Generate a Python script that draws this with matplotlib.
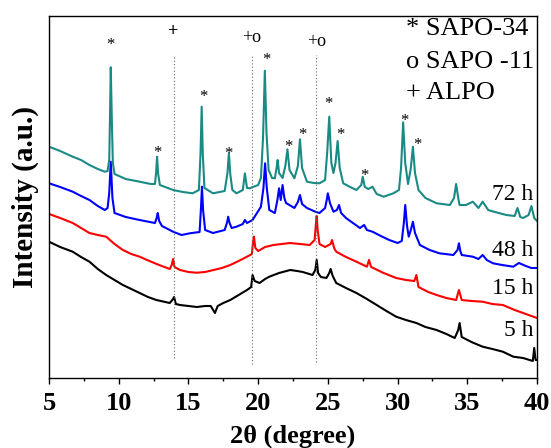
import matplotlib
matplotlib.use("Agg")
import matplotlib.pyplot as plt
from matplotlib.ticker import MultipleLocator

plt.rcParams['font.family'] = ['Liberation Serif', 'DejaVu Serif']

# ---- data (y in arbitrary units) ----
x_5h = [5.0, 5.8, 6.7, 7.3, 7.9, 8.5, 9.1, 9.7, 10.3, 10.9, 11.5, 12.1, 12.7, 13.66, 13.9, 13.97,
        14.1, 14.4, 15.0, 15.6, 16.2, 16.6, 16.9, 17.1, 17.5, 18.0, 18.6, 19.2, 19.5, 19.6, 19.75,
        20.1, 20.5, 20.8, 21.5, 22.3, 22.8, 23.2, 23.9, 24.1, 24.2, 24.3, 24.5, 24.9, 25.1, 25.2,
        25.35, 25.6, 26.3, 27.05, 27.8, 28.5, 29.2, 29.9, 30.6, 31.35, 32.0, 32.8, 33.5, 34.1,
        34.35, 34.45, 34.6, 35.3, 36.1, 36.8, 37.55, 38.3, 39.0, 39.7, 39.8, 39.9, 40.0]
y_5h = [136.3, 131, 126.3, 121, 116.3, 109, 103, 98, 93, 89, 85, 81, 78, 75, 79, 81,
        74, 73, 72, 71, 72, 72, 65, 72, 75, 78, 83, 88, 91, 103, 97,
        95, 99, 101.3, 105, 108, 107, 106, 103, 108, 118, 105, 101, 100, 105, 109,
        102, 95, 90, 85, 79, 73, 67, 61.3, 58, 55, 51, 48, 44, 40,
        48, 55, 41, 36, 31.3, 29, 26.3, 21.3, 20, 17, 30, 18, 18]

x_15h = [5.0, 5.8, 6.7, 7.3, 7.9, 8.5, 9.1, 9.7, 10.3, 10.9, 11.5, 12.2, 12.9, 13.66, 13.8, 13.9,
         14.0, 14.4, 15.0, 15.6, 16.2, 16.8, 17.4, 18.0, 18.6, 19.2, 19.55, 19.65, 19.7, 19.8,
         20.0, 20.5, 21.1, 21.7, 22.3, 23.0, 23.7, 24.05, 24.15, 24.2, 24.27, 24.4, 24.8, 25.2,
         25.3, 25.45, 25.6, 26.3, 27.05, 27.8, 27.95, 28.1, 29.0, 29.9, 30.6, 31.2, 31.35, 31.5,
         32.2, 32.8, 33.5, 34.2, 34.4, 34.6, 35.3, 36.1, 36.8, 37.55, 38.4, 39.2, 40.0]
y_15h = [164, 160, 155, 150, 145, 143, 141.3, 134, 128, 124, 121.3, 117, 113, 109, 113, 119,
         111, 108, 106, 105.3, 106, 108, 110, 113, 117, 121.3, 124, 138, 141.3, 130,
         127, 131, 133, 134, 135, 134, 133, 138, 155, 162, 148, 134, 131, 134,
         138, 130, 126.3, 121, 116.3, 111.3, 118, 111, 105, 100, 98, 97, 103, 91,
         86, 83, 80, 78, 88, 78, 77, 76.3, 74, 73, 68, 64, 60]

x_48h = [5.0, 5.8, 6.7, 7.3, 7.9, 8.5, 9.0, 9.2, 9.32, 9.43, 9.55, 9.7, 10.5, 11.5, 12.6, 12.72,
         12.8, 12.9, 13.1, 13.9, 14.5, 15.1, 15.8, 15.9, 15.97, 16.05, 16.2, 16.76, 17.6, 17.78,
         17.85, 17.95, 18.1, 18.45, 18.9, 19.05, 19.2, 19.6, 20.2, 20.38, 20.5, 20.62, 20.8,
         21.2, 21.38, 21.5, 21.62, 21.75, 21.88, 22.0, 22.6, 22.85, 23.0, 23.15, 23.5, 24.1,
         24.4, 24.8, 24.92, 25.0, 25.15, 25.4, 25.65, 25.8, 25.95, 26.3, 26.8, 27.3, 27.6, 27.8,
         28.2, 28.8, 29.4, 30.0, 30.3, 30.45, 30.55, 30.68, 30.8, 30.95, 31.1, 31.25, 31.6,
         32.3, 33.0, 34.0, 34.3, 34.4, 34.5, 34.6, 35.4, 35.8, 36.1, 36.4, 36.85, 37.5, 38.3,
         38.7, 39.2, 39.6, 40.0]
y_48h = [194.7, 191, 186.3, 182, 178, 172, 168, 170, 185, 216.3, 180, 165, 161, 158, 155, 160,
         165, 157, 152, 146.3, 143, 144.7, 146, 170, 191.3, 168, 148, 145, 148, 156,
         161.3, 155, 150, 151.3, 154, 158, 155, 158, 171.3, 190, 214.7, 190, 168,
         165, 178, 189.7, 178, 193, 180, 175, 170, 176, 183, 174, 170, 166.3,
         165, 170, 178, 184.7, 175, 166.3, 168, 173, 165, 160, 155, 150, 153, 148,
         146.3, 142, 138, 135, 137, 155, 173, 152, 141.3, 148, 156.3, 145, 133,
         128, 124.7, 123, 128, 134.7, 127, 123, 121.3, 119, 123, 118, 114.7, 113, 111.3,
         115, 112, 110, 110]

x_72h = [5.0, 5.0, 5.8, 6.7, 7.3, 7.9, 8.5, 9.0, 9.2, 9.32, 9.38, 9.43, 9.5, 9.58, 9.7, 10.5,
         11.5, 12.3, 12.6, 12.68, 12.75, 12.83, 12.95, 13.9, 14.6, 15.3, 15.75, 15.87, 15.95,
         16.03, 16.15, 16.76, 17.6, 17.8, 17.9, 18.0, 18.15, 18.45, 18.9, 19.05, 19.2, 19.4,
         20.0, 20.2, 20.35, 20.48, 20.6, 20.75, 21.0, 21.2, 21.32, 21.4, 21.5, 21.75, 21.95,
         22.1, 22.25, 22.6, 22.85, 23.0, 23.15, 23.5, 24.0, 24.4, 24.8, 24.95, 25.1, 25.25,
         25.4, 25.55, 25.7, 25.85, 26.1, 26.6, 27.05, 27.4, 27.5, 27.65, 27.9, 28.2, 28.5,
         29.0, 29.7, 30.1, 30.25, 30.4, 30.55, 30.75, 30.95, 31.1, 31.25, 31.5, 32.0, 32.8,
         33.75, 34.05, 34.2, 34.35, 34.45, 34.9, 35.4, 35.8, 36.1, 36.5, 36.9, 37.8, 38.4,
         38.6, 38.8, 39.0, 39.4, 39.6, 39.8, 40.0]
y_72h = [362, 231.3, 227, 221.3, 218, 213, 209, 206.3, 207, 218, 265, 310.7, 262, 215, 204, 199,
         196.3, 194, 194, 205, 221.3, 204, 193, 188, 186, 184.7, 188, 225, 271.3,
         224, 190, 184.7, 187, 205, 224.7, 204, 188, 184.7, 188, 204.7, 190, 189.7,
         193, 200, 240, 307.3, 245, 208, 200, 199.7, 210, 218, 205, 200, 212,
         228.7, 208, 199.7, 212, 238.7, 210, 196.3, 195, 194.7, 198, 225, 261.3, 215,
         205, 215, 237, 210, 194.7, 191, 188, 193, 201.3, 191, 189, 191.3, 184,
         181.3, 184.7, 188, 210, 255.7, 215, 194, 210, 231.3, 205, 188, 180, 174.7,
         173, 180, 194, 180, 173, 173, 176.3, 170, 176.3, 168, 166.3, 163, 162,
         170, 161, 160, 163, 172, 160, 157]

series_labels = ['5 h', '15 h', '48 h', '72 h']
series_colors = ['#000000', '#ff0000', '#0000ff', '#1a8a84']
label_y = [48, 89, 128, 183]

# phase markers
star_x = [9.38, 12.8, 16.04, 17.9, 20.57, 22.2, 23.17, 25.07, 25.93, 27.65, 30.5, 31.45]
star_y = [333, 225, 281.5, 224, 318, 231, 243, 274, 243, 202, 257, 233]
plus_x = [13.9]
plus_y = [346]
plus_o_x = [19.5, 24.2]
plus_o_y = [340, 336]
ref_lines_x = [13.97, 19.56, 24.18]
ref_line_top = 323
ref_line_bottom = [20, 14, 16]

legend_lines = ['* SAPO-34', 'o SAPO -11', '+ ALPO']
legend_y = [349, 316, 285]
xticks = [5, 10, 15, 20, 25, 30, 35, 40]

# ---- figure ----
fig = plt.figure(figsize=(5.51, 4.48), dpi=100)
ax = fig.add_axes([49/551, 1 - 378/448, (537 - 49)/551, (378 - 16)/448])

xs = [x_5h, x_15h, x_48h, x_72h]
ys = [y_5h, y_15h, y_48h, y_72h]
for xv, yv, c in zip(xs, ys, series_colors):
    ax.plot(xv, yv, color=c, lw=1.5)

for xl, yb in zip(ref_lines_x, ref_line_bottom):
    ax.plot([xl, xl], [yb, ref_line_top], color='#666666', lw=0.8, ls=(0, (1, 2)))

for lab, ly in zip(series_labels, label_y):
    ax.text(39.75, ly, lab, ha='right', va='center', fontsize=17)

for sx, sy in zip(star_x, star_y):
    ax.text(sx, sy, '*', ha='center', va='center', fontsize=12)
for px_, py_ in zip(plus_x, plus_y):
    ax.text(px_, py_, '+', ha='center', va='center', fontsize=13, fontweight='bold')
for px_, py_ in zip(plus_o_x, plus_o_y):
    ax.text(px_, py_, '+o', ha='center', va='center', fontsize=13)

for t, ly in zip(legend_lines, legend_y):
    ax.text(30.6, ly, t, ha='left', va='center', fontsize=19)

ax.set_xlim(5, 40)
ax.set_ylim(0, 362)
ax.set_xticks(xticks)
ax.xaxis.set_minor_locator(MultipleLocator(2.5))
ax.set_yticks([])
ax.tick_params(axis='x', which='major', direction='out', length=4, width=1, labelsize=19, pad=6)
ax.tick_params(axis='x', which='minor', direction='out', length=2.5, width=1)
for lbl in ax.get_xticklabels():
    lbl.set_fontweight('bold')
for s in ax.spines.values():
    s.set_linewidth(1.0)
ax.set_xlabel('2θ (degree)', fontsize=19, fontweight='bold', labelpad=7)
ax.set_ylabel('Intensity (a.u.)', fontsize=21, fontweight='bold', labelpad=7)

fig.savefig('out.png', dpi=100)
